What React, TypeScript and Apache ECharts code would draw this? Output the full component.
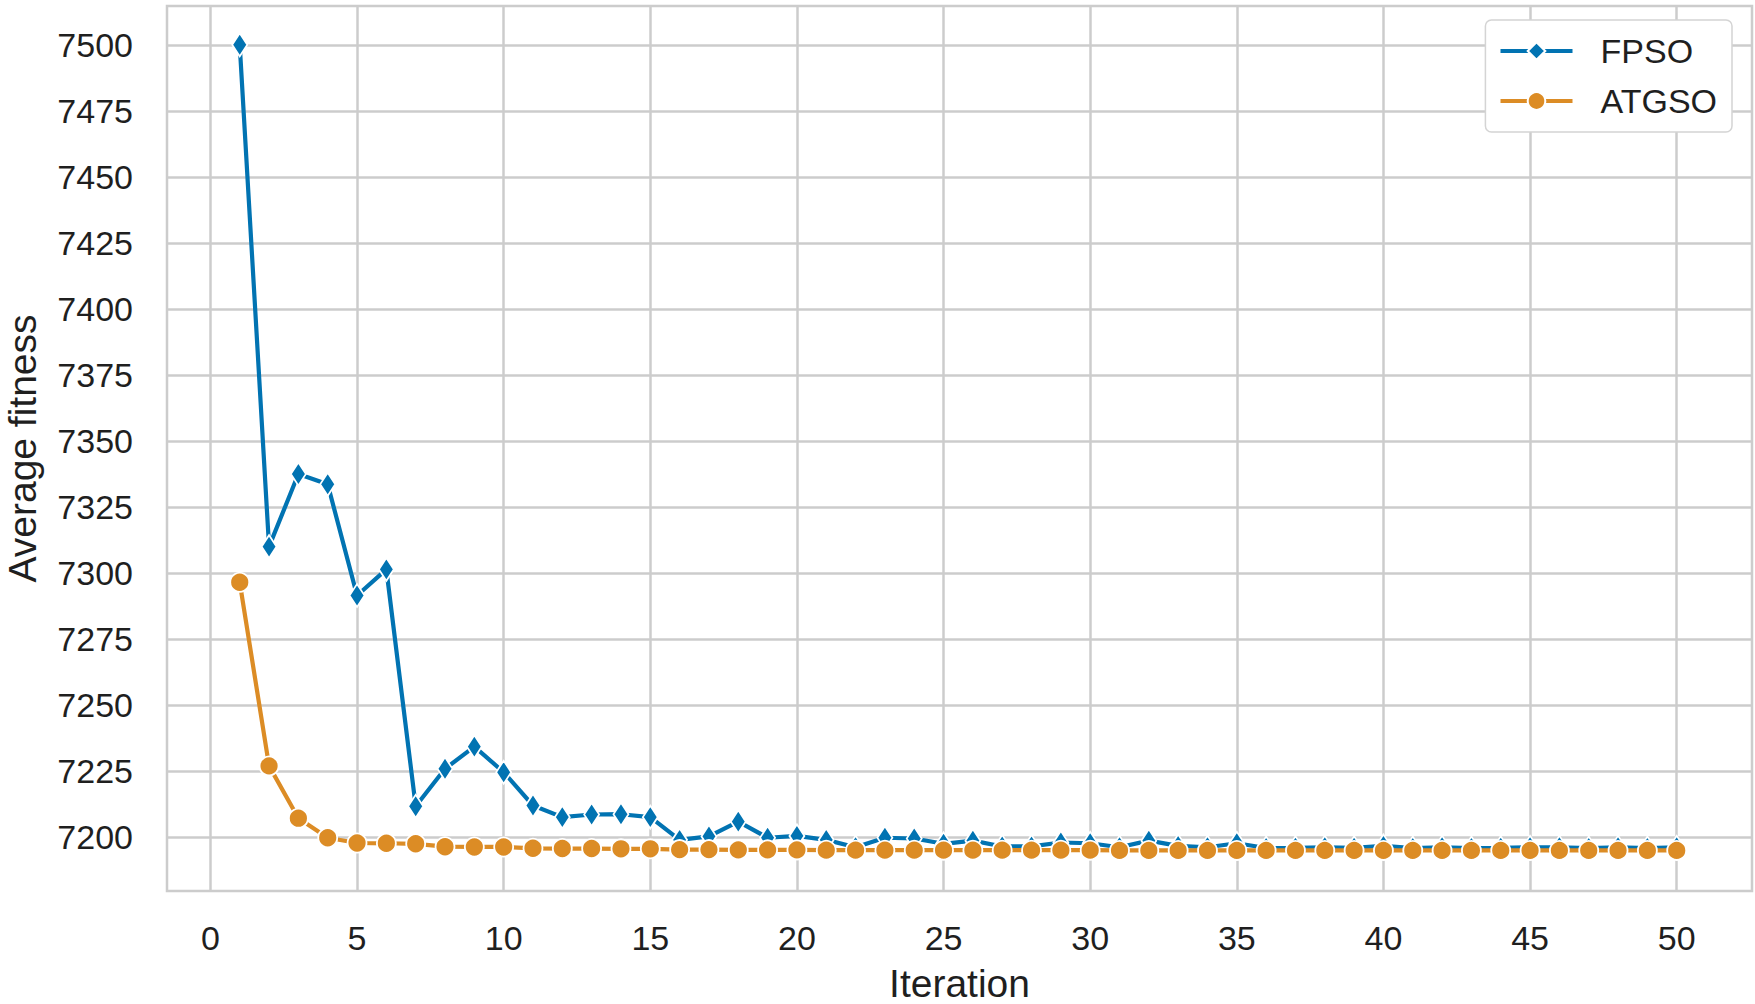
import React, { useEffect, useRef } from 'react';
import * as echarts from 'echarts';

const iterations = [
  1, 2, 3, 4, 5, 6, 7, 8, 9, 10,
  11, 12, 13, 14, 15, 16, 17, 18, 19, 20,
  21, 22, 23, 24, 25, 26, 27, 28, 29, 30,
  31, 32, 33, 34, 35, 36, 37, 38, 39, 40,
  41, 42, 43, 44, 45, 46, 47, 48, 49, 50,
];

const fpsoValues = [
  7500, 7310, 7337.5, 7333.6, 7291.5, 7301.4, 7211.7, 7225.9, 7234.3, 7224.6,
  7212.0, 7207.6, 7208.6, 7208.7, 7207.6, 7199.0, 7200.3, 7205.9, 7199.8, 7200.5,
  7199.0, 7196.2, 7199.8, 7199.5, 7197.5, 7198.7, 7196.5, 7196.5, 7198.0, 7197.7,
  7196.2, 7198.7, 7196.7, 7196.2, 7197.7, 7195.9, 7196.0, 7196.2, 7196.0, 7196.7,
  7195.9, 7196.2, 7195.9, 7196.0, 7196.2, 7196.2, 7195.9, 7196.2, 7195.9, 7196.2,
];

const atgsoValues = [
  7296.5, 7227.0, 7207.2, 7199.8, 7197.8, 7197.7, 7197.5, 7196.4, 7196.3, 7196.3,
  7195.8, 7195.7, 7195.7, 7195.6, 7195.6, 7195.3, 7195.3, 7195.2, 7195.2, 7195.2,
  7195.1, 7195.1, 7195.1, 7195.1, 7195.1, 7195.1, 7195.1, 7195.1, 7195.1, 7195.1,
  7195.0, 7195.0, 7195.0, 7195.0, 7195.0, 7195.0, 7195.0, 7195.0, 7195.0, 7195.0,
  7195.0, 7195.0, 7195.0, 7195.0, 7195.0, 7195.0, 7195.0, 7195.0, 7195.0, 7195.0,
];

const seriesNames = ['FPSO', 'ATGSO'];
const xAxisTitle = 'Iteration';
const yAxisTitle = 'Average fitness';
const xRange = [0, 50];
const xStep = 5;
const yRange = [7200, 7500];
const yStep = 25;

const FONT = '"Liberation Sans", Arial, Helvetica, sans-serif';
const GRID_COLOR = '#cccccc';
const TEXT_COLOR = '#1f1f1f';
const BLUE = '#0173B2';
const ORANGE = '#DC8C25';

export default function App() {
  const ref = useRef<HTMLDivElement>(null);

  useEffect(() => {
    document.body.style.margin = '0';
    if (!ref.current) return;
    const chart = echarts.init(ref.current, null, { renderer: 'svg' });

    const frame = { left: 167, right: 3, top: 6, bottom: 113 };
    const inner = { left: 210.4, right: 78.3, top: 44.8, bottom: 166.8 };
    const gridBase = { containLabel: false, outerBoundsMode: 'none' };
    const hidden = {
      axisLine: { show: false },
      axisTick: { show: false },
      axisLabel: { show: false },
      splitLine: { show: false },
    };

    const option: any = {
      animation: false,
      backgroundColor: '#ffffff',
      textStyle: { fontFamily: FONT },
      grid: [
        { ...frame, ...gridBase, show: true, borderColor: GRID_COLOR, borderWidth: 2.5, backgroundColor: 'transparent' },
        { left: inner.left, right: inner.right, top: frame.top, bottom: frame.bottom, ...gridBase },
        { left: frame.left, right: frame.right, top: inner.top, bottom: inner.bottom, ...gridBase },
        { ...inner, ...gridBase },
      ],
      xAxis: [
        {
          gridIndex: 0,
          type: 'value',
          min: 0,
          max: 1,
          ...hidden,
          name: xAxisTitle,
          nameLocation: 'middle',
          nameGap: 72,
          nameTextStyle: { fontSize: 39, lineHeight: 40, color: TEXT_COLOR, fontFamily: FONT },
        },
        {
          gridIndex: 1,
          type: 'value',
          min: xRange[0],
          max: xRange[1],
          interval: xStep,
          axisLine: { show: false },
          axisTick: { show: false },
          splitLine: { show: true, lineStyle: { color: GRID_COLOR, width: 2.5 } },
          axisLabel: { fontSize: 34, color: TEXT_COLOR, margin: 30, fontFamily: FONT },
        },
        { gridIndex: 2, type: 'value', min: 0, max: 1, show: false },
        { gridIndex: 3, type: 'value', min: xRange[0], max: xRange[1], show: false },
      ],
      yAxis: [
        {
          gridIndex: 0,
          type: 'value',
          min: 0,
          max: 1,
          ...hidden,
          name: yAxisTitle,
          nameLocation: 'middle',
          nameGap: 125,
          nameTextStyle: { fontSize: 39, lineHeight: 40, color: TEXT_COLOR, fontFamily: FONT },
        },
        { gridIndex: 1, type: 'value', min: 0, max: 1, show: false },
        {
          gridIndex: 2,
          type: 'value',
          min: yRange[0],
          max: yRange[1],
          interval: yStep,
          axisLine: { show: false },
          axisTick: { show: false },
          splitLine: { show: true, lineStyle: { color: GRID_COLOR, width: 2.5 } },
          axisLabel: {
            fontSize: 34,
            color: TEXT_COLOR,
            margin: 34,
            fontFamily: FONT,
            formatter: (v: number) => String(v),
          },
        },
        { gridIndex: 3, type: 'value', min: yRange[0], max: yRange[1], show: false },
      ],
      legend: {
        data: seriesNames,
        orient: 'vertical',
        right: 23,
        top: 20,
        backgroundColor: '#ffffff',
        borderColor: '#d4d4d4',
        borderWidth: 1.5,
        borderRadius: 6,
        padding: [14, 15, 14, 13],
        itemWidth: 72,
        itemHeight: 22,
        itemGap: 16,
        lineStyle: { width: 4.2 },
        textStyle: { fontSize: 34, color: TEXT_COLOR, fontFamily: FONT, padding: [0, 0, 0, 23] },
      },
      series: [
        {
          name: seriesNames[0],
          type: 'line',
          xAxisIndex: 3,
          yAxisIndex: 3,
          clip: false,
          data: iterations.map((it, i) => [it, fpsoValues[i]]),
          symbol: 'diamond',
          symbolSize: [15, 23],
          showSymbol: true,
          lineStyle: { color: BLUE, width: 4.2 },
          itemStyle: { color: BLUE, borderColor: '#ffffff', borderWidth: 1.8 },
        },
        {
          name: seriesNames[1],
          type: 'line',
          xAxisIndex: 3,
          yAxisIndex: 3,
          clip: false,
          data: iterations.map((it, i) => [it, atgsoValues[i]]),
          symbol: 'circle',
          symbolSize: 19,
          showSymbol: true,
          lineStyle: { color: ORANGE, width: 4.2 },
          itemStyle: { color: ORANGE, borderColor: '#ffffff', borderWidth: 1.8 },
        },
      ],
    };

    chart.setOption(option);
    return () => chart.dispose();
  }, []);

  return <div ref={ref} style={{ width: 1755, height: 1004 }} />;
}
